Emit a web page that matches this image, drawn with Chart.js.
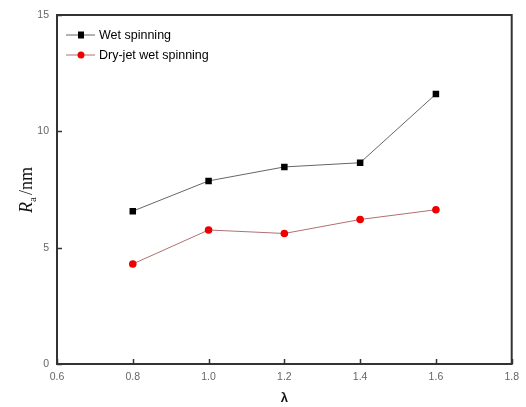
<!DOCTYPE html>
<html lang="en">
  <head>
    <meta charset="UTF-8" />
    <title>Ra vs lambda</title>
    <script src="https://cdn.jsdelivr.net/npm/chart.js"></script>
    <style>
      html,
      body {
        width: 100%;
        height: 100%;
        margin: 0;
        padding: 0;
        background: #fff;
      }
    </style>
  </head>
  <body>
    <div style="width: 526px; height: 407px">
      <canvas id="chart"></canvas>
    </div>

    <script>
      const lambdas = [0.8, 1.0, 1.2, 1.4, 1.6];
      const wetSpinning = [6.57, 7.87, 8.47, 8.65, 11.6];
      const dryJetWet = [4.3, 5.76, 5.61, 6.21, 6.63];
      const seriesNames = ["Wet spinning", "Dry-jet wet spinning"];
      const xTicks = [0.6, 0.8, 1.0, 1.2, 1.4, 1.6, 1.8];
      const yTicks = [0, 5, 10, 15];

      const toPoints = (ys) => lambdas.map((x, i) => ({ x: x, y: ys[i] }));

      // frame, inward ticks, axis titles and legend
      const decor = {
        id: "decor",
        afterDraw(chart) {
          const ctx = chart.ctx;
          const a = chart.chartArea;
          const xs = chart.scales.x;
          const ys = chart.scales.y;
          ctx.save();
          ctx.strokeStyle = "#333";
          ctx.lineWidth = 2;
          ctx.strokeRect(a.left, a.top, a.right - a.left, a.bottom - a.top);

          ctx.lineWidth = 1.5;
          ctx.beginPath();
          xTicks.forEach((v) => {
            const px = Math.round(xs.getPixelForValue(v)) + 0.5;
            ctx.moveTo(px, a.bottom);
            ctx.lineTo(px, a.bottom - 5);
          });
          yTicks.forEach((v) => {
            const py = Math.round(ys.getPixelForValue(v)) + 0.5;
            ctx.moveTo(a.left, py);
            ctx.lineTo(a.left + 5, py);
          });
          ctx.stroke();

          // x title
          ctx.fillStyle = "#111";
          ctx.font = "bold 13px 'Liberation Sans', Arial, sans-serif";
          ctx.textAlign = "center";
          ctx.textBaseline = "middle";
          ctx.fillText("λ", (a.left + a.right) / 2, 398);

          // y title: R_a /nm
          ctx.translate(26, 190);
          ctx.rotate(-Math.PI / 2);
          ctx.textAlign = "left";
          ctx.textBaseline = "alphabetic";
          ctx.font = "italic 18px 'Liberation Serif', 'Times New Roman', serif";
          const w1 = ctx.measureText("R").width;
          ctx.font = "18px 'Liberation Serif', 'Times New Roman', serif";
          const w3 = ctx.measureText("/nm").width;
          ctx.font = "11px 'Liberation Serif', 'Times New Roman', serif";
          const w2 = ctx.measureText("a").width + 2;
          let x0 = -(w1 + w2 + w3) / 2;
          ctx.font = "italic 18px 'Liberation Serif', 'Times New Roman', serif";
          ctx.fillText("R", x0, 6);
          ctx.font = "11px 'Liberation Serif', 'Times New Roman', serif";
          ctx.fillText("a", x0 + w1, 10);
          ctx.font = "18px 'Liberation Serif', 'Times New Roman', serif";
          ctx.fillText("/nm", x0 + w1 + w2, 6);
          ctx.restore();

          // legend
          ctx.save();
          chart.data.datasets.forEach((ds, i) => {
            const ly = 35 + i * 20;
            ctx.strokeStyle = ds.borderColor;
            ctx.lineWidth = 1;
            ctx.beginPath();
            ctx.moveTo(66, ly);
            ctx.lineTo(95, ly);
            ctx.stroke();
            ctx.fillStyle = ds.pointBackgroundColor;
            if (ds.pointStyle === "rect") {
              ctx.fillRect(78, ly - 3.5, 6, 7);
            } else {
              ctx.beginPath();
              ctx.arc(81, ly, 3.5, 0, Math.PI * 2);
              ctx.fill();
            }
            ctx.fillStyle = "#000";
            ctx.font = "12.5px 'Liberation Sans', Arial, sans-serif";
            ctx.textAlign = "left";
            ctx.textBaseline = "middle";
            ctx.fillText(ds.label, 99, ly + 1);
          });
          ctx.restore();
        },
      };

      new Chart(document.getElementById("chart").getContext("2d"), {
        type: "scatter",
        data: {
          datasets: [
            {
              label: seriesNames[0],
              data: toPoints(wetSpinning),
              showLine: true,
              borderColor: "#666",
              borderWidth: 1,
              pointStyle: "rect",
              pointRadius: 4.6,
              pointBackgroundColor: "#000",
              pointBorderColor: "#000",
              pointBorderWidth: 0,
            },
            {
              label: seriesNames[1],
              data: toPoints(dryJetWet),
              showLine: true,
              borderColor: "#b07070",
              borderWidth: 1,
              pointStyle: "circle",
              pointRadius: 3.8,
              pointBackgroundColor: "#ee0000",
              pointBorderColor: "#ee0000",
              pointBorderWidth: 0,
            },
          ],
        },
        options: {
          responsive: true,
          maintainAspectRatio: false,
          animation: false,
          layout: { padding: { top: 15, right: 13, left: 0, bottom: 0 } },
          plugins: {
            legend: { display: false },
            tooltip: { enabled: false },
          },
          scales: {
            x: {
              type: "linear",
              min: 0.6,
              max: 1.8,
              afterBuildTicks: (s) => {
                s.ticks = xTicks.map((v) => ({ value: v }));
              },
              afterFit: (s) => {
                s.height = 43;
              },
              grid: { display: false, drawTicks: false },
              border: { display: false },
              ticks: {
                padding: 7,
                color: "#666",
                font: { family: "'Liberation Sans', Arial, sans-serif", size: 10.5 },
                callback: (v) => v.toFixed(1),
              },
            },
            y: {
              type: "linear",
              min: 0,
              max: 15,
              afterBuildTicks: (s) => {
                s.ticks = yTicks.map((v) => ({ value: v }));
              },
              afterFit: (s) => {
                s.width = 57;
              },
              grid: { display: false, drawTicks: false },
              border: { display: false },
              ticks: {
                padding: 8,
                color: "#666",
                font: { family: "'Liberation Sans', Arial, sans-serif", size: 10.5 },
              },
            },
          },
        },
        plugins: [decor],
      });
    </script>
  </body>
</html>
